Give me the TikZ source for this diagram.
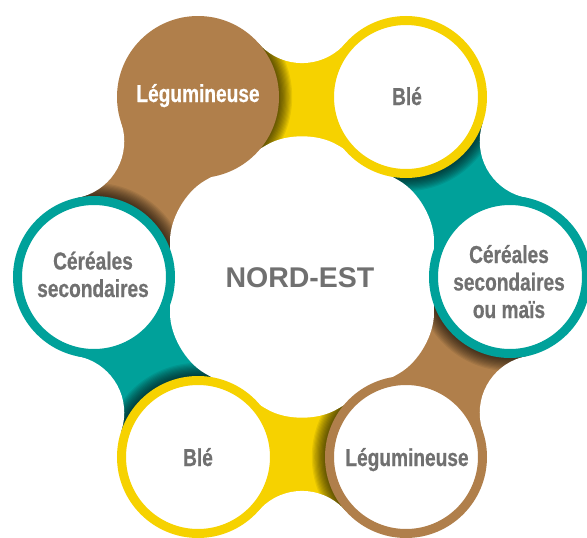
\documentclass[tikz,border=0pt]{standalone}
\usepackage{fontspec}
\newfontfamily\labfont[FakeStretch=0.78, BoldFeatures={FakeBold=0.6}]{Liberation Sans}
\newfontfamily\titlefont{Liberation Sans}
\usetikzlibrary{calc}
\definecolor{brn}{HTML}{B07F4B}
\definecolor{ylw}{HTML}{F6D200}
\definecolor{tel}{HTML}{00A19A}
\definecolor{txtgray}{HTML}{707070}
\begin{document}
\begin{tikzpicture}[x=1pt,y=-1pt,
  ringnode/.style={circle, draw=#1, line width=9pt, fill=white, minimum size=153pt, inner sep=0pt},
  solidnode/.style={circle, fill=#1, minimum size=162pt, inner sep=0pt},
  lab/.style={text=txtgray, font=\labfont\bfseries\fontsize{24.5}{27.5}\selectfont, align=center, inner sep=0pt},
  title/.style={text=txtgray, font=\titlefont\bfseries\fontsize{28.5}{30}\selectfont, inner sep=0pt},
  neckshade/.style={black, opacity=0.07}
  ]
\useasboundingbox (0,0) rectangle (587,538);
\coordinate (O) at (302,277);
\coordinate (P1) at (198,97);
\coordinate (P2) at (406,97);
\coordinate (P3) at (510,277);
\coordinate (P4) at (406,457);
\coordinate (P5) at (198,457);
\coordinate (P6) at (94,277);
\foreach \a/\b/\n in {P1/P2/12, P2/P3/23, P3/P4/34, P4/P5/45, P5/P6/56, P6/P1/61}{
  \coordinate (M\n) at ($(\a)!0.5!(\b)$);
  \coordinate (F\n) at ($(O)!1.5086!(M\n)$);
}
% necks
\fill[ylw] (O) -- (P1) -- (F12) -- (P2) -- cycle;
\fill[tel] (O) -- (P2) -- (F23) -- (P3) -- cycle;
\fill[brn] (O) -- (P3) -- (F34) -- (P4) -- cycle;
\fill[ylw] (O) -- (P4) -- (F45) -- (P5) -- cycle;
\fill[tel] (O) -- (P5) -- (F56) -- (P6) -- cycle;
\fill[brn] (O) -- (P6) -- (F61) -- (P1) -- cycle;
% shadows
\foreach \c/\f/\d in {P1/F12/P2, P2/F23/P3, P3/F34/P4, P4/F45/P5, P5/F56/P6, P6/F61/P1}{
  \begin{scope}
    \clip (O) -- (\c) -- (\f) -- (\d) -- cycle;
    \foreach \i in {1,...,11}
      \fill[neckshade] (\c) circle[radius={(81+1.2*\i)*1pt}];
  \end{scope}
}
% concave fillets
\foreach \n in {12,23,34,45,56,61}
  \fill[white] (F\n) circle[radius=57.6pt];
% central white hexagon
\fill[white, rounded corners=40pt] ($(O)+(0:132)$) -- ($(O)+(30:152.4)$) -- ($(O)+(90:152.4)$) -- ($(O)+(150:152.4)$) -- ($(O)+(210:152.4)$) -- ($(O)+(270:152.4)$) -- ($(O)+(330:152.4)$) -- cycle;
% circles
\node[solidnode=brn] (c1) at (P1) {};
\node[ringnode=ylw] (c2) at (P2) {};
\node[ringnode=tel] (c3) at (P3) {};
\node[ringnode=brn] (c4) at (P4) {};
\node[ringnode=ylw] (c5) at (P5) {};
\node[ringnode=tel] (c6) at (P6) {};
% labels
\node[lab, text=white, anchor=base] (t1) at (198,102) {Légumineuse};
\node[lab, anchor=base] (t2) at (407,105) {Blé};
\node[lab, anchor=base] (t3) at (509,318) {Céréales\\secondaires\\ou maïs};
\node[lab, anchor=base] (t4) at (407,466) {Légumineuse};
\node[lab, anchor=base] (t5) at (198,466) {Blé};
\node[lab, anchor=base] (t6) at (93,297) {Céréales\\secondaires};
\node[title] (ne) at (300,277.5) {NORD-EST};
\end{tikzpicture}
\end{document}
